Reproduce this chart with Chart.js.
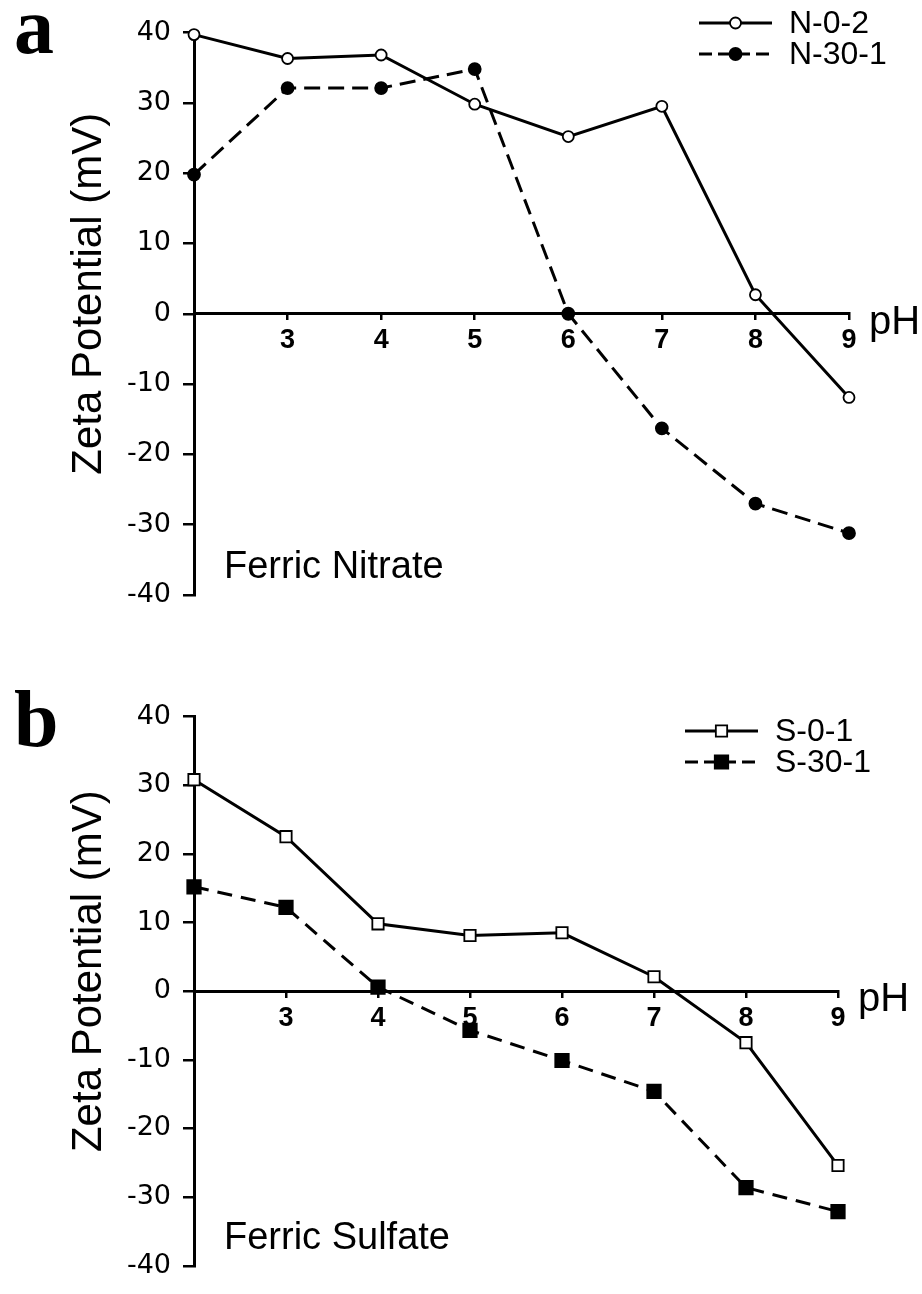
<!DOCTYPE html>
<html>
<head>
<meta charset="utf-8">
<script src="https://cdn.jsdelivr.net/npm/chart.js@4.4.0/dist/chart.umd.min.js"></script>
<style>
  html, body { margin:0; padding:0; background:#fff; }
  .panel { position:absolute; left:0; width:922px; height:647px; }
</style>
</head>
<body>
<div class="panel" style="top:0"><canvas id="chartA" width="922" height="647"></canvas></div>
<div class="panel" style="top:647px"><canvas id="chartB" width="922" height="647"></canvas></div>
<script>
// pH values on x, zeta potential (mV) on y
let phValues = [2, 3, 4, 5, 6, 7, 8, 9];
let nitrate02 = [39.7, 36.3, 36.8, 29.8, 25.2, 29.5, 2.7, -11.9];
let nitrate301 = [19.8, 32.1, 32.1, 34.8, 0, -16.3, -27.0, -31.2];
let sulfate01 = [30.8, 22.5, 9.8, 8.1, 8.5, 2.1, -7.5, -25.4];
let sulfate301 = [15.2, 12.2, 0.6, -5.7, -10.1, -14.6, -28.6, -32.1];
let yTicks = [-40, -30, -20, -10, 0, 10, 20, 30, 40];
let xTickLabels = ['', '3', '4', '5', '6', '7', '8', '9'];
let yTitle = 'Zeta Potential (mV)';

function toPoints(ys){
    return phValues.map((x, i) => ({x: x, y: ys[i]}));
}

// draws the panel letter, axis title, pH label, salt name and the legend
const panelText = {
    id: 'panelText',
    afterDraw(chart, args, opts){
        let ctx = chart.ctx;
        let area = chart.chartArea;
        let zeroY = chart.scales.y.getPixelForValue(0);
        ctx.save();
        ctx.fillStyle = '#000';
        ctx.textBaseline = 'alphabetic';

        ctx.font = 'bold 80px "Liberation Serif"';
        ctx.textAlign = 'left';
        ctx.fillText(opts.letter, 14, opts.letterY);

        ctx.save();
        ctx.translate(101, (area.top + area.bottom) / 2 - 20);
        ctx.rotate(-Math.PI / 2);
        ctx.textAlign = 'center';
        ctx.font = '42px "Liberation Sans"';
        ctx.fillText(yTitle, 0, 0);
        ctx.restore();

        ctx.font = '40px "Liberation Sans"';
        ctx.textAlign = 'left';
        ctx.fillText('pH', area.right + 20, zeroY + 20);

        ctx.font = '38px "Liberation Sans"';
        ctx.fillText(opts.salt, area.left + 30, area.bottom - 17);

        // legend
        ctx.font = '32px "Liberation Sans"';
        ctx.textBaseline = 'middle';
        chart.data.datasets.forEach((ds, i) => {
            let y = opts.legendY + i * 31;
            let x0 = opts.legendX, x1 = opts.legendX + 73, xm = (x0 + x1) / 2;
            ctx.save();
            ctx.strokeStyle = '#000';
            ctx.lineWidth = 3;
            ctx.setLineDash(ds.borderDash ? [13, 6] : []);
            ctx.beginPath();
            ctx.moveTo(x0, y);
            ctx.lineTo(x1, y);
            ctx.stroke();
            ctx.restore();
            ctx.fillStyle = ds.pointBackgroundColor;
            ctx.strokeStyle = '#000';
            ctx.lineWidth = ds.pointBorderWidth;
            ctx.beginPath();
            if (ds.pointStyle === 'rect'){
                let s = ds.pointRadius * Math.SQRT1_2;
                ctx.rect(xm - s, y - s, 2 * s, 2 * s);
            } else {
                ctx.arc(xm, y, ds.pointRadius, 0, Math.PI * 2);
            }
            ctx.fill();
            ctx.stroke();
            ctx.fillStyle = '#000';
            ctx.fillText(ds.label, x1 + 17, y + 1);
        });
        ctx.restore();
    }
};

function makeChart(id, sets, text, pad){
    let ctx = document.getElementById(id).getContext('2d');
    return new Chart(ctx, {
        type: 'line',
        data: { datasets: sets },
        plugins: [panelText],
        options: {
            responsive: false,
            animation: false,
            layout: { padding: pad },
            plugins: {
                legend: { display: false },
                tooltip: { enabled: false },
                panelText: text
            },
            scales: {
                x: {
                    type: 'linear',
                    min: 2,
                    max: 9,
                    position: { y: 0 },
                    ticks: {
                        stepSize: 1,
                        color: '#000',
                        padding: 6,
                        font: { family: '"Liberation Sans Narrow", "Liberation Sans"', size: 27, weight: 'bold' },
                        callback: (v) => xTickLabels[phValues.indexOf(v)]
                    },
                    grid: { drawOnChartArea: false, color: '#000', lineWidth: 2.5, tickLength: 5 },
                    border: { color: '#000', width: 3 }
                },
                y: {
                    min: yTicks[0],
                    max: yTicks[yTicks.length - 1],
                    position: 'left',
                    afterFit: (scale) => { scale.width = 194; },
                    ticks: {
                        stepSize: 10,
                        color: '#000',
                        padding: 12,
                        font: { family: '"DejaVu Sans"', size: 27 }
                    },
                    grid: { drawOnChartArea: false, color: '#000', lineWidth: 2.5, tickLength: 11 },
                    border: { color: '#000', width: 3 }
                }
            }
        }
    });
}

function series(label, ys, style, radius, filled, dash){
    return {
        label: label,
        data: toPoints(ys),
        borderColor: '#000',
        borderWidth: 3,
        borderDash: dash,
        pointStyle: style,
        pointRadius: radius,
        pointBorderWidth: 1.8,
        pointBorderColor: '#000',
        pointBackgroundColor: filled ? '#000' : '#fff',
        tension: 0,
        clip: false
    };
}

makeChart('chartA', [
    series('N-0-2', nitrate02, 'circle', 5.5, false, undefined),
    series('N-30-1', nitrate301, 'circle', 6, true, [16, 8])
], { letter: 'a', letterY: 53, salt: 'Ferric Nitrate', legendX: 699, legendY: 23 },
   { left: 0, right: 73, top: 32.5, bottom: 52 });

makeChart('chartB', [
    series('S-0-1', sulfate01, 'rect', 8, false, undefined),
    series('S-30-1', sulfate301, 'rect', 9.5, true, [15, 9])
], { letter: 'b', letterY: 99, salt: 'Ferric Sulfate', legendX: 685, legendY: 84 },
   { left: 0, right: 84, top: 69.5, bottom: 15 });
</script>
</body>
</html>
